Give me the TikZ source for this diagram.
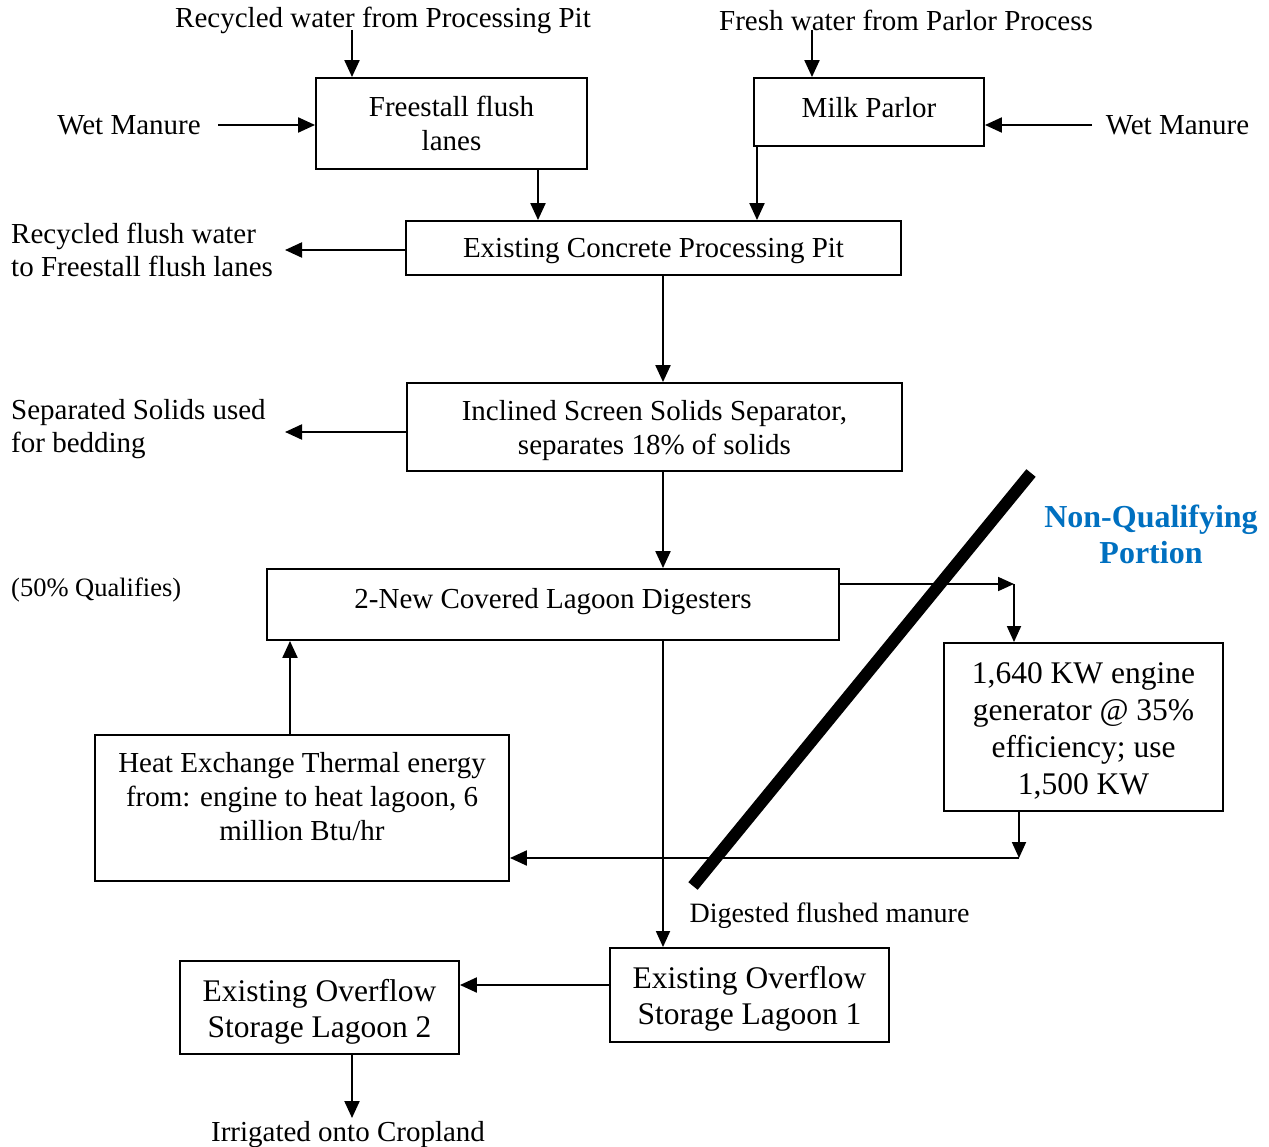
\documentclass[tikz,border=0pt]{standalone}
\usepackage{fontspec}
\setmainfont{Liberation Serif}
\usetikzlibrary{arrows.meta}
\definecolor{nqblue}{HTML}{0070C0}
\begin{document}
\begin{tikzpicture}[x=1pt,y=-1pt,
  box/.style={draw, line width=1.9pt, align=center, inner sep=0pt},
  fnt/.style={font=\fontsize{29}{34}\selectfont},
  bigfnt/.style={font=\fontsize{31.5}{37}\selectfont},
  txt/.style={inner sep=0pt, fnt},
  arr/.style={line width=2.2pt, -{Triangle[length=17pt,width=15pt]}},
  thinarr/.style={line width=1.8pt, -{Triangle[length=16pt,width=14pt]}}]
\useasboundingbox (0,0) rectangle (1269,1147);

% boxes
\node[box, fnt, minimum width=271, minimum height=91] (ffl) at (451.5,123.5) {Freestall flush\\lanes};
\node[box, minimum width=230, minimum height=68] (milk) at (869,112) {};
\node[txt] (milkt) at (869,107.5) {Milk Parlor};
\node[box, minimum width=495, minimum height=54] (pit) at (653.5,248) {};
\node[txt] (pitt) at (653.5,251.5) {Existing Concrete Processing Pit};
\node[box, minimum width=495, minimum height=88] (sep) at (654.5,427) {};
\node[txt, align=center] (sept) at (654.5,431) {Inclined Screen Solids Separator,\\separates 18\% of solids};
\node[box, minimum width=572, minimum height=71] (dig) at (553,604.5) {};
\node[txt] (digt) at (553,602) {2-New Covered Lagoon Digesters};
\node[box, minimum width=279, minimum height=168] (eng) at (1083.5,727) {};
\node[txt, bigfnt, align=center] (engt) at (1083.5,731) {1,640 KW engine\\generator @ 35\%\\efficiency; use\\1,500 KW};
\node[box, minimum width=414, minimum height=146] (heat) at (302,808) {};
\node[txt, align=center] (heatt) at (302,797) {Heat Exchange Thermal energy\\from: engine to heat lagoon, 6\\million Btu/hr};
\node[box, minimum width=279, minimum height=94] (lag1) at (749.5,995) {};
\node[txt, align=center, font=\fontsize{31.5}{36}\selectfont] (lag1t) at (749.5,999) {Existing Overflow\\Storage Lagoon 1};
\node[box, minimum width=279, minimum height=93] (lag2) at (319.5,1007.5) {};
\node[txt, align=center, font=\fontsize{31.5}{36}\selectfont] (lag2t) at (319.5,1011.5) {Existing Overflow\\Storage Lagoon 2};

% free texts
\node[txt] (rw) at (383,20.5) {Recycled water from Processing Pit};
\node[txt] (fw) at (906,20.5) {Fresh water from Parlor Process};
\node[txt] (wml) at (129,125) {Wet Manure};
\node[txt] (wmr) at (1177.5,125) {Wet Manure};
\node[txt, align=left, anchor=west, font=\fontsize{29}{33}\selectfont] (rfw) at (11,249.5) {Recycled flush water\\to Freestall flush lanes};
\node[txt, align=left, anchor=west, font=\fontsize{29}{33}\selectfont] (ss) at (11,429) {Separated Solids used\\for bedding};
\node[txt, anchor=west, font=\fontsize{26.5}{30}\selectfont] (q50) at (11,590) {(50\% Qualifies)};
\node[txt, align=center, text=nqblue, font=\fontsize{32}{36}\selectfont\bfseries] (nq) at (1151,534) {Non-Qualifying\\Portion};
\node[txt, font=\fontsize{28}{32}\selectfont] (dfm) at (829.5,916) {Digested flushed manure};
\node[txt] (irr) at (348,1134.5) {Irrigated onto Cropland};

% helper coordinates
\coordinate (c1) at (352,30);
\coordinate (c2) at (812,30);
\coordinate (c3) at (218,125);
\coordinate (c4) at (1092,125);
\coordinate (c5) at (538,0);
\coordinate (c6) at (757,0);
\coordinate (c7) at (285,250);
\coordinate (c8) at (663,0);
\coordinate (c9) at (285,432);
\coordinate (c10) at (1014,584);
\coordinate (c11) at (1019,858);
\coordinate (c12) at (290,0);
\coordinate (c13) at (0,985);
\coordinate (c14) at (352,1118);

% connectors
\draw[arr] (c1) -- (c1 |- ffl.north);
\draw[arr] (c2) -- (c2 |- milk.north);
\draw[arr] (c3) -- (c3 -| ffl.west);
\draw[arr] (c4) -- (c4 -| milk.east);
\draw[arr] (c5 |- ffl.south) -- (c5 |- pit.north);
\draw[arr] (c6 |- milk.south) -- (c6 |- pit.north);
\draw[arr] (c7 -| pit.west) -- (c7);
\draw[arr] (c8 |- pit.south) -- (c8 |- sep.north);
\draw[arr] (c9 -| sep.west) -- (c9);
\draw[arr] (c8 |- sep.south) -- (c8 |- dig.north);
\draw[thinarr] (c10 -| dig.east) -- (c10);
\draw[thinarr] (c10) -- (c10 |- eng.north);
\draw[thinarr] (c11 |- eng.south) -- (c11);
\draw[arr] (c11) -- (c11 -| heat.east);
\draw[arr] (c12 |- heat.north) -- (c12 |- dig.south);
\draw[thinarr] (c8 |- dig.south) -- (c8 |- lag1.north);
\draw[arr] (c13 -| lag1.west) -- (c13 -| lag2.east);
\draw[arr] (c14 |- lag2.south) -- (c14);

% thick diagonal
\draw[line width=12pt, line cap=butt] (1031,473) -- (693,886);
\end{tikzpicture}
\end{document}
